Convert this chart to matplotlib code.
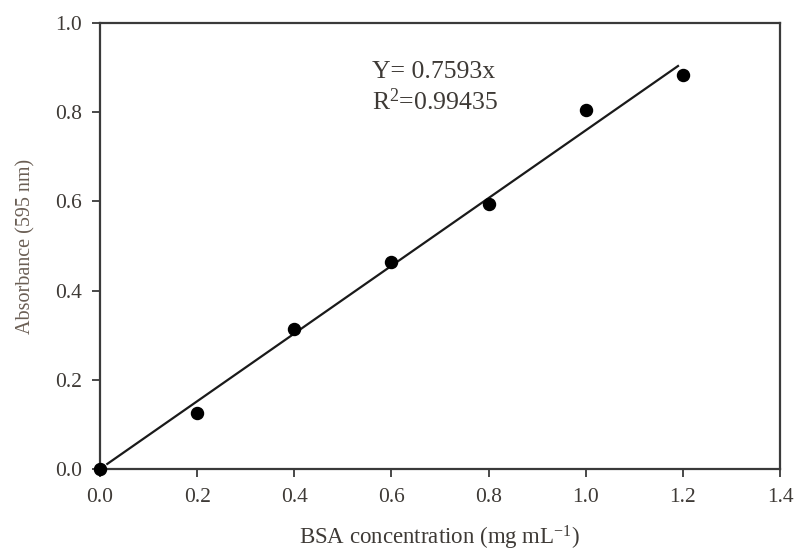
import matplotlib
matplotlib.use("Agg")
import matplotlib.pyplot as plt
import numpy as np

# BSA standard curve (Bradford assay)
concentration = [0.0, 0.2, 0.4, 0.6, 0.8, 1.0, 1.2]
absorbance = [0.0, 0.125, 0.313, 0.465, 0.595, 0.805, 0.884]
slope = 0.7593
r_squared = 0.99435
fit_range = [0.015, 1.19]

x_ticks = [0.0, 0.2, 0.4, 0.6, 0.8, 1.0, 1.2, 1.4]
y_ticks = [0.0, 0.2, 0.4, 0.6, 0.8, 1.0]

plt.rcParams['font.family'] = ['Liberation Serif', 'DejaVu Serif']
plt.rcParams['mathtext.fontset'] = 'custom'
plt.rcParams['mathtext.rm'] = 'Liberation Serif'
plt.rcParams['mathtext.it'] = 'Liberation Serif:italic'
plt.rcParams['mathtext.bf'] = 'Liberation Serif:bold'
text_color = '#3e3a36'
spine_color = '#3a3a3a'

fig = plt.figure(figsize=(7.96, 5.52), dpi=100)
ax = fig.add_axes([100 / 796, 1 - 469 / 552, 680 / 796, 446 / 552])

fit_x = np.array(fit_range)
ax.plot(fit_x, slope * fit_x, color='#1a1a1a', lw=1.6, zorder=2)
ax.scatter(concentration, absorbance, s=75, color='black', zorder=3, clip_on=False)

ax.set_xlim(0, 1.4)
ax.set_ylim(0, 1.0)
ax.set_xticks(x_ticks)
ax.set_yticks(y_ticks)
ax.set_xticklabels([f"{v:.1f}" for v in x_ticks])
ax.set_yticklabels([f"{v:.1f}" for v in y_ticks])

for sp in ax.spines.values():
    sp.set_color(spine_color)
    sp.set_linewidth(1.6)

ax.tick_params(direction='out', length=6, width=1.3, color=spine_color,
               labelsize=15.5, labelcolor=text_color)
ax.tick_params(axis='x', pad=8)
ax.tick_params(axis='y', pad=7)

ax.set_xlabel("BSA concentration (mg mL$^{-1}$)", fontsize=16.5, color=text_color, labelpad=12)
ax.set_ylabel("Absorbance (595 nm)", fontsize=14.5, color='#6a5e54', labelpad=14)

ax.text(0.4, 0.89, f"Y= {slope}x", transform=ax.transAxes, fontsize=18.5,
        color=text_color, va='center', ha='left')
ax.text(0.4, 0.823, f"R$^2$={r_squared}", transform=ax.transAxes, fontsize=18.5,
        color=text_color, va='center', ha='left')

fig.savefig("out.png", dpi=100, facecolor='white')
